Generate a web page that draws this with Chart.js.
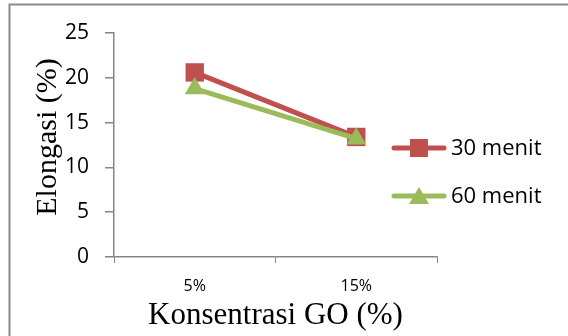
<!DOCTYPE html>
<html>
<head>
<meta charset="utf-8">
<style>
  html, body { margin: 0; padding: 0; background: #fff; }
  #wrap { position: relative; width: 568px; height: 336px; }
  canvas { display: block; }
</style>
<script src="https://cdn.jsdelivr.net/npm/chart.js@4/dist/chart.umd.min.js"></script>
</head>
<body>
<div id="wrap"><canvas id="c" width="568" height="336"></canvas></div>
<script>
// Elongation (%) by GO concentration, two mixing times
const categories = ['5%', '15%'];
const seriesLabels = ['30 menit', '60 menit'];
const elong30 = [20.6, 13.4];
const elong60 = [18.8, 13.2];
const yTicks = [0, 5, 10, 15, 20, 25];
const yTitle = 'Elongasi (%)';
const xTitle = 'Konsentrasi GO (%)';

const RED = '#C0504D';
const GREEN = '#9BBB59';
const AXIS = '#868686';
const SANS = '"Open Sans", "Liberation Sans", sans-serif';
const SERIF = '"Liberation Serif", "Times New Roman", serif';

// frame around the figure (top and left edges)
const framePlugin = {
  id: 'frame',
  beforeDraw(chart) {
    const ctx = chart.ctx;
    ctx.save();
    ctx.fillStyle = '#fff';
    ctx.fillRect(0, 0, chart.width, chart.height);
    ctx.strokeStyle = '#8a8a8a';
    ctx.lineWidth = 2;
    ctx.beginPath();
    ctx.moveTo(9.5, chart.height);
    ctx.lineTo(9.5, 4.5);
    ctx.lineTo(chart.width, 4.5);
    ctx.stroke();
    ctx.restore();
  }
};

// rotated y-axis title, sitting a little above the plot's middle
const yTitlePlugin = {
  id: 'yTitle',
  afterDraw(chart) {
    const ctx = chart.ctx;
    const area = chart.chartArea;
    ctx.save();
    ctx.translate(48, (area.top + area.bottom) / 2 - 8);
    ctx.rotate(-Math.PI / 2);
    ctx.fillStyle = '#000';
    ctx.font = '30px ' + SERIF;
    ctx.textAlign = 'center';
    ctx.textBaseline = 'middle';
    ctx.fillText(yTitle, 0, 0);
    ctx.restore();
  }
};

// legend: line segment with marker, then label
const legendPlugin = {
  id: 'lineLegend',
  afterDraw(chart) {
    const ctx = chart.ctx;
    const rows = [148, 196];
    ctx.save();
    chart.data.datasets.forEach((ds, i) => {
      const y = rows[i];
      ctx.strokeStyle = ds.borderColor;
      ctx.lineWidth = 5;
      ctx.lineCap = 'round';
      ctx.beginPath();
      ctx.moveTo(394, y);
      ctx.lineTo(444, y);
      ctx.stroke();
      ctx.fillStyle = ds.backgroundColor;
      if (ds.pointStyle === 'rect') {
        ctx.fillRect(410, y - 9, 18, 18);
      } else {
        ctx.beginPath();
        ctx.moveTo(419, y - 9);
        ctx.lineTo(429, y + 8);
        ctx.lineTo(409, y + 8);
        ctx.closePath();
        ctx.fill();
      }
      ctx.fillStyle = '#000';
      ctx.font = '22px ' + SANS;
      ctx.textBaseline = 'middle';
      ctx.textAlign = 'left';
      ctx.fillText(ds.label, 451, y + 1);
    });
    ctx.restore();
  }
};

new Chart(document.getElementById('c'), {
  type: 'line',
  data: {
    labels: categories,
    datasets: [
      {
        label: seriesLabels[0],
        data: elong30,
        order: 1,
        borderColor: RED,
        backgroundColor: RED,
        borderWidth: 5,
        pointStyle: 'rect',
        pointRadius: 13,
        pointBorderWidth: 0,
        tension: 0
      },
      {
        label: seriesLabels[1],
        data: elong60,
        order: 0,
        borderColor: GREEN,
        backgroundColor: GREEN,
        borderWidth: 5,
        pointStyle: 'triangle',
        pointRadius: 11.5,
        pointBorderWidth: 0,
        tension: 0
      }
    ]
  },
  options: {
    responsive: false,
    animation: false,
    devicePixelRatio: 1,
    layout: { padding: { left: 30, top: 33, right: 131, bottom: 2 } },
    plugins: {
      legend: { display: false },
      tooltip: { enabled: false }
    },
    scales: {
      x: {
        offset: true,
        grid: {
          display: true,
          drawOnChartArea: false,
          drawTicks: true,
          offset: true,
          tickLength: 6,
          color: AXIS,
          lineWidth: 1
        },
        border: { display: true, color: AXIS, width: 1.5 },
        ticks: {
          color: '#000',
          padding: 14,
          font: { family: SANS, size: 16 }
        },
        title: {
          display: true,
          text: xTitle,
          color: '#000',
          padding: { top: 4, bottom: 0 },
          font: { family: SERIF, size: 31 }
        },
        afterFit(s) { s.height = 77; }
      },
      y: {
        min: 0,
        max: 25,
        afterBuildTicks(s) { s.ticks = yTicks.map(v => ({ value: v })); },
        grid: {
          display: true,
          drawOnChartArea: false,
          drawTicks: true,
          tickLength: 9,
          color: AXIS,
          lineWidth: 1.5
        },
        border: { display: true, color: AXIS, width: 1.5 },
        ticks: {
          color: '#000',
          padding: 16,
          font: { family: SANS, size: 21 }
        },
        title: { display: false },
        afterFit(s) { s.width = 84; }
      }
    }
  },
  plugins: [framePlugin, yTitlePlugin, legendPlugin]
});
</script>
</body>
</html>
